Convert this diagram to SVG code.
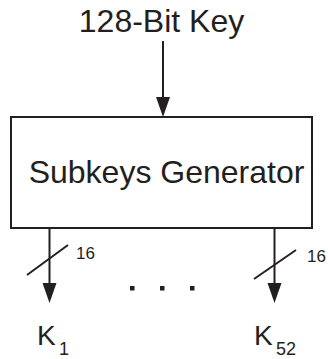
<svg xmlns="http://www.w3.org/2000/svg" width="328" height="359" viewBox="0 0 328 359">
<defs>
<style>
text{font-family:"Liberation Sans",Arial,sans-serif;fill:#231f20}
.ln{stroke:#231f20;stroke-width:2;fill:none}
.ah{fill:#231f20}
</style>
</defs>
<rect width="328" height="359" fill="#fff"/>
<g id="key">
<text x="161.5" y="32" font-size="32" text-anchor="middle">128-Bit Key</text>
</g>
<g id="generator">
<rect x="11" y="117" width="301" height="111" class="ln"/>
<text x="166.5" y="183" font-size="32" text-anchor="middle">Subkeys Generator</text>
</g>
<g id="k1">
<text x="37" y="345" font-size="28">K</text>
<text x="59" y="355" font-size="18">1</text>
</g>
<g id="k52">
<text x="254" y="345" font-size="28">K</text>
<text x="276" y="355" font-size="18">52</text>
</g>
<g id="connectors">
<line x1="163" y1="41" x2="163" y2="98" class="ln"/>
<polygon points="156,97 170,97 163,117" class="ah"/>
<line x1="49.5" y1="228" x2="49.5" y2="284" class="ln"/>
<polygon points="42.5,283 56.5,283 49.5,303" class="ah"/>
<line x1="274.5" y1="228" x2="274.5" y2="284" class="ln"/>
<polygon points="267.5,283 281.5,283 274.5,303" class="ah"/>
<line x1="27" y1="275" x2="68" y2="245" class="ln"/>
<line x1="254" y1="279" x2="296" y2="250" class="ln"/>
<text x="76" y="259" font-size="17">16</text>
<text x="307" y="262" font-size="17">16</text>
<rect x="130" y="286" width="4.5" height="4.5" class="ah"/>
<rect x="160" y="286" width="4.5" height="4.5" class="ah"/>
<rect x="190" y="286" width="4.5" height="4.5" class="ah"/>
</g>
</svg>
